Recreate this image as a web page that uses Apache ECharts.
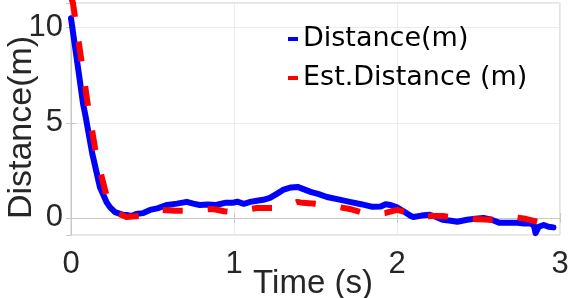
<!DOCTYPE html>
<html><head><meta charset="utf-8">
<script src="https://cdn.jsdelivr.net/npm/echarts@6/dist/echarts.min.js"></script>
<style>html,body{margin:0;padding:0;background:#fff}#c{width:571px;height:298px}</style>
</head><body><div id="c"></div>
<script>
const xTicks = [0, 1, 2, 3];
const yTicks = [0, 5, 10];
const seriesNames = ['Distance(m)', 'Est.Distance (m)'];
const distT = [0,0.006,0.043,0.074,0.086,0.13,0.178,0.22,0.24,0.27,0.32,0.34,0.37,0.40,0.44,0.485,0.53,0.59,0.65,0.71,0.75,0.79,0.84,0.89,0.95,0.99,1.02,1.06,1.1,1.14,1.18,1.22,1.26,1.3,1.35,1.39,1.43,1.47,1.52,1.57,1.64,1.71,1.78,1.85,1.9,1.93,1.96,2.0,2.04,2.08,2.1,2.15,2.2,2.24,2.28,2.33,2.37,2.43,2.48,2.53,2.58,2.63,2.68,2.74,2.78,2.82,2.84,2.85,2.87,2.9,2.93,2.96];
const distV = [10.5,10.4,7.9,6.0,5.5,3.4,1.6,0.8,0.55,0.3,0.16,0.15,0.1,0.2,0.25,0.42,0.5,0.68,0.75,0.84,0.75,0.68,0.7,0.68,0.8,0.79,0.85,0.74,0.84,0.9,0.95,1.05,1.25,1.47,1.6,1.63,1.5,1.37,1.25,1.1,0.97,0.84,0.72,0.58,0.6,0.72,0.68,0.55,0.35,0.12,0.05,0.12,0.16,0.05,-0.1,-0.15,-0.2,-0.1,-0.05,0,-0.1,-0.26,-0.25,-0.26,-0.3,-0.3,-0.4,-0.8,-0.47,-0.37,-0.47,-0.5];
const estT = [0,0.012,0.055,0.105,0.147,0.178,0.22,0.27,0.34,0.42,0.49,0.56,0.64,0.72,0.87,0.94,1.0,1.07,1.14,1.22,1.29,1.39,1.42,1.5,1.57,1.71,1.78,1.85,1.93,2.0,2.07,2.14,2.21,2.28,2.36,2.43,2.57,2.63,2.71,2.79,2.86];
const estV = [11.6,11.3,8.8,5.85,3.7,2.5,1.1,0.3,0.05,0.1,0.2,0.42,0.37,0.37,0.47,0.35,0.3,0.42,0.52,0.52,0.52,0.84,0.79,0.74,0.68,0.47,0.3,0.16,0.26,0.42,0.26,0.05,0.1,0.1,0,-0.05,-0.1,-0.05,0.05,-0.05,-0.2];

const pair = (t, v) => t.map((x, i) => [x, v[i]]);
const FONT = 'Liberation Sans';
const LFONT = 'DejaVu Sans';
const gridCol = '#ececec';
const axisCol = '#c8c8c8';
const txt = '#262626';

const chart = echarts.init(document.getElementById('c'), null, {renderer: 'canvas'});
chart.setOption({
  animation: false,
  backgroundColor: '#fff',
  grid: {left: 71, right: 11, top: 3, bottom: 63, show: true, borderColor: axisCol, borderWidth: 1, containLabel: false, outerBoundsMode: 'none'},
  legend: {
    orient: 'vertical', left: 288, top: 23, padding: 0, itemWidth: 10, itemHeight: 4, itemGap: 7,
    textStyle: {fontFamily: LFONT, fontSize: 27, color: '#000', lineHeight: 32},
    data: [{name: seriesNames[0], icon: 'rect'}, {name: seriesNames[1], icon: 'rect'}]
  },
  xAxis: [{
    type: 'value', min: xTicks[0], max: xTicks[xTicks.length - 1], interval: 1,
    name: 'Time (s)', nameLocation: 'middle', nameGap: 32, nameMoveOverlap: false,
    nameTextStyle: {fontFamily: FONT, fontSize: 33, color: txt, padding: [0, 5, 0, 0]},
    axisLine: {show: true, lineStyle: {color: axisCol}},
    axisTick: {show: true, inside: true, length: 5, lineStyle: {color: axisCol}},
    axisLabel: {fontFamily: FONT, fontSize: 31, color: txt, margin: 14, formatter: v => String(v)},
    splitLine: {show: true, lineStyle: {color: gridCol}}
  }, {
    type: 'value', position: 'top', min: 0, max: 3, interval: 1,
    axisLine: {show: false}, axisTick: {show: true, inside: true, length: 5, lineStyle: {color: axisCol}},
    axisLabel: {show: false}, splitLine: {show: false}
  }],
  yAxis: [{
    type: 'value', min: -0.9, max: 11.3, minInterval: 5, maxInterval: 5,
    name: 'Distance(m)', nameLocation: 'middle', nameGap: 32, nameMoveOverlap: false,
    nameTextStyle: {fontFamily: FONT, fontSize: 34, color: txt, padding: [0, 17, 0, 0]},
    axisLine: {show: true, lineStyle: {color: axisCol}},
    axisTick: {show: true, inside: true, length: 5, lineStyle: {color: axisCol}},
    axisLabel: {fontFamily: FONT, fontSize: 31, color: txt, margin: 8, showMinLabel: false, showMaxLabel: false,
      formatter: v => (yTicks.indexOf(v) >= 0 ? String(v) : '')},
    splitLine: {show: true, lineStyle: {color: gridCol}}
  }, {
    type: 'value', position: 'right', min: -0.9, max: 11.3, minInterval: 5, maxInterval: 5,
    axisLine: {show: false}, axisTick: {show: true, inside: true, length: 5, lineStyle: {color: axisCol}},
    axisLabel: {show: false}, splitLine: {show: false}
  }],
  series: [{
    name: seriesNames[0], type: 'line', data: pair(distT, distV), showSymbol: false, symbol: 'none',
    color: '#0000ff', lineStyle: {color: '#0000ff', width: 6, join: 'round', cap: 'round'}, z: 2, clip: true
  }, {
    name: seriesNames[1], type: 'line', data: pair(estT, estV), showSymbol: false, symbol: 'none',
    color: '#ff0000', lineStyle: {color: '#ff0000', width: 6, type: [20, 25], join: 'round'}, z: 3, clip: true
  }]
});
</script></body></html>
